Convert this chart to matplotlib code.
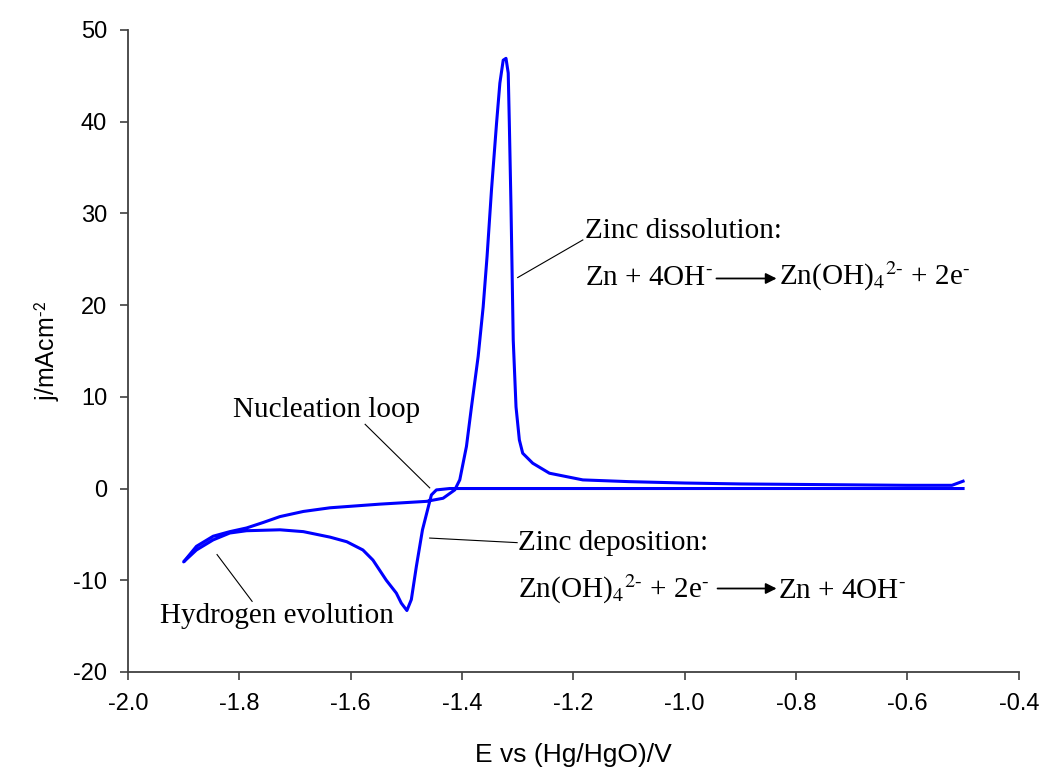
import numpy as np
import matplotlib.pyplot as plt

plt.rcParams['mathtext.fontset'] = 'stix'
plt.rcParams['axes.unicode_minus'] = False

# cyclic voltammogram, one continuous scan
# cathodic sweep from -0.5 V down to -1.9 V
E_cat = [-0.50, -0.70, -0.90, -1.10, -1.30, -1.40, -1.422, -1.446, -1.455, -1.458,
         -1.471, -1.482, -1.491, -1.499, -1.509, -1.518, -1.536, -1.560, -1.578,
         -1.607, -1.637, -1.685, -1.727, -1.787, -1.817, -1.847, -1.877, -1.900]
j_cat = [0.00, 0.00, 0.00, 0.00, 0.00, 0.00, 0.00, -0.15, -0.70, -1.40,
         -4.5, -8.5, -12.1, -13.3, -12.5, -11.4, -10.0, -7.8, -6.7,
         -5.8, -5.3, -4.7, -4.5, -4.6, -4.85, -5.6, -6.7, -8.0]
# anodic sweep back from -1.9 V to -0.5 V
E_an = [-1.877, -1.847, -1.817, -1.787, -1.757, -1.727, -1.685, -1.637, -1.547,
        -1.464, -1.434, -1.413, -1.404, -1.392, -1.383, -1.371, -1.362, -1.355,
        -1.347, -1.338, -1.332, -1.326, -1.321, -1.317, -1.315, -1.312, -1.310,
        -1.308, -1.303, -1.297, -1.291, -1.273, -1.243, -1.183, -1.10, -1.00, -0.90,
        -0.80, -0.70, -0.60, -0.52, -0.50]
j_an = [-6.3, -5.2, -4.7, -4.3, -3.7, -3.06, -2.5, -2.1, -1.7,
        -1.4, -1.06, -0.15, 0.95, 4.6, 8.9, 14.4, 19.8, 25.3,
        32.6, 39.8, 44.2, 46.7, 46.9, 45.3, 39.8, 30.7, 23.5,
        16.2, 8.9, 5.3, 3.85, 2.76, 1.67, 0.94, 0.75, 0.6, 0.5,
        0.45, 0.4, 0.35, 0.35, 0.8]

E = E_cat + E_an
j = j_cat + j_an

fig = plt.figure(figsize=(10.48, 7.83), dpi=100)
ax = fig.add_axes([0.1221, 0.1418, 0.850, 0.820])
ax.plot(E, j, color='#0000ff', lw=2.2)

xt = np.arange(-2.0, -0.39, 0.2)
ax.set_xlim(-2.0, -0.4)
ax.set_ylim(-20, 50)
ax.set_xticks(xt)
ax.set_xticklabels(['%.1f' % v for v in xt])
ax.set_yticks(range(-20, 51, 10))
for s in ['top', 'right']:
    ax.spines[s].set_visible(False)
for s in ['left', 'bottom']:
    ax.spines[s].set_color('#404040')
    ax.spines[s].set_linewidth(1.3)
ax.tick_params(direction='out', length=6, width=1.2, color='#404040',
               labelsize=17, pad=9)
for lab in ax.get_xticklabels() + ax.get_yticklabels():
    lab.set_family('Liberation Sans')

ax.set_xlabel('E vs (Hg/HgO)/V', fontsize=19, family='Liberation Sans', labelpad=20)
ax.set_ylabel('j/mAcm$^{\\text{-}\\mathsf{2}}$', fontsize=18, family='Liberation Sans',
              labelpad=8)

tf = dict(fontsize=21, family='Liberation Serif', va='baseline', ha='left')
lk = dict(color='black', lw=0.8)
ap = dict(arrowstyle='-|>', color='black', lw=1.3, mutation_scale=16,
          shrinkA=0, shrinkB=0)

zn_left = 'Zn + 4OH$^{\\text{-}}$'
zincate = 'Zn(OH)$_{4}{}^{2\\text{-}}$ + 2e$^{\\text{-}}$'

ax.text(-1.179, 27.35, 'Zinc dissolution:', **tf)
ax.plot([-1.183, -1.300], [27.1, 23.0], **lk)
ax.text(-1.179, 22.2, zn_left, **tf)
ax.annotate('', xy=(-0.835, 22.9), xytext=(-0.943, 22.9), arrowprops=ap)
ax.text(-0.830, 22.2, zincate, **tf)

ax.text(-1.811, 7.84, 'Nucleation loop', **tf)
ax.plot([-1.574, -1.458], [7.0, 0.07], **lk)

ax.text(-1.300, -6.65, 'Zinc deposition:', **tf)
ax.plot([-1.458, -1.301], [-5.4, -5.9], **lk)
ax.text(-1.300, -11.9, zincate, **tf)
ax.annotate('', xy=(-0.835, -10.9), xytext=(-0.941, -10.9), arrowprops=ap)
ax.text(-0.833, -11.9, zn_left, **tf)

ax.text(-1.943, -14.66, 'Hydrogen evolution', **tf)
ax.plot([-1.840, -1.777], [-7.2, -12.3], **lk)

fig.savefig('out.png', dpi=100)
